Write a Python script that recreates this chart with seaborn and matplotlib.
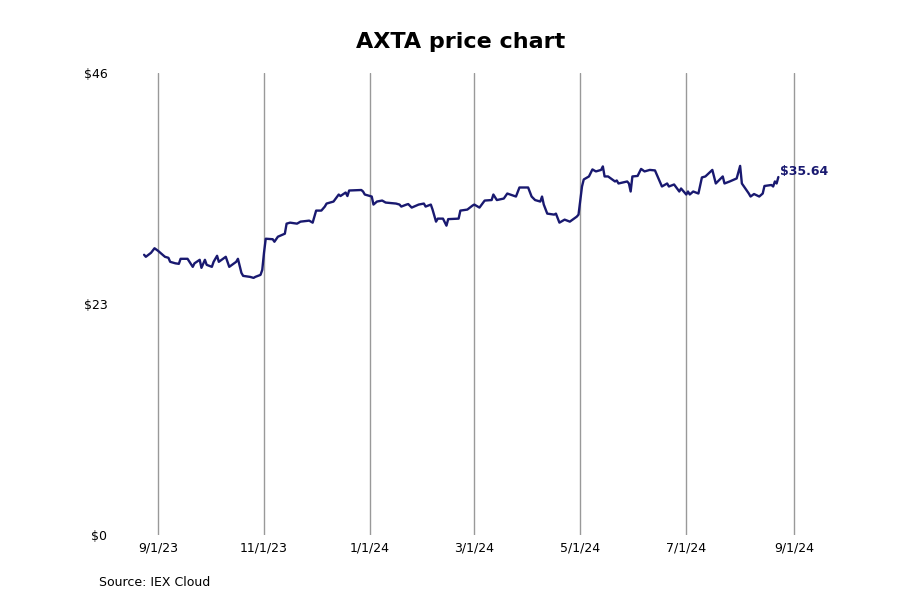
import matplotlib
matplotlib.use("Agg")
import matplotlib.pyplot as plt
import matplotlib.dates as mdates
import seaborn as sns
import pandas as pd

dates = [
    "2023-08-24", "2023-08-25", "2023-08-28", "2023-08-30", "2023-09-01", "2023-09-05",
    "2023-09-07", "2023-09-08", "2023-09-11", "2023-09-13", "2023-09-14", "2023-09-18",
    "2023-09-21", "2023-09-22", "2023-09-25", "2023-09-26", "2023-09-28", "2023-09-29",
    "2023-10-02", "2023-10-03", "2023-10-05", "2023-10-06", "2023-10-10", "2023-10-12",
    "2023-10-16", "2023-10-17", "2023-10-19", "2023-10-20", "2023-10-24", "2023-10-26",
    "2023-10-27", "2023-10-30", "2023-10-31", "2023-11-01", "2023-11-02", "2023-11-06",
    "2023-11-07", "2023-11-09", "2023-11-13", "2023-11-14", "2023-11-16", "2023-11-20",
    "2023-11-22", "2023-11-27", "2023-11-29", "2023-12-01", "2023-12-04", "2023-12-06",
    "2023-12-07", "2023-12-11", "2023-12-14", "2023-12-15", "2023-12-18", "2023-12-19",
    "2023-12-20", "2023-12-27", "2023-12-28", "2023-12-29", "2024-01-02", "2024-01-03",
    "2024-01-05", "2024-01-08", "2024-01-10", "2024-01-16", "2024-01-18", "2024-01-19",
    "2024-01-22", "2024-01-23", "2024-01-25", "2024-01-29", "2024-02-01", "2024-02-02",
    "2024-02-05", "2024-02-06", "2024-02-08", "2024-02-09", "2024-02-12", "2024-02-14",
    "2024-02-15", "2024-02-21", "2024-02-22", "2024-02-26", "2024-02-29", "2024-03-01",
    "2024-03-04", "2024-03-07", "2024-03-11", "2024-03-12", "2024-03-14", "2024-03-18",
    "2024-03-20", "2024-03-25", "2024-03-27", "2024-04-01", "2024-04-03", "2024-04-05",
    "2024-04-08", "2024-04-09", "2024-04-10", "2024-04-12", "2024-04-16", "2024-04-17",
    "2024-04-19", "2024-04-22", "2024-04-25", "2024-04-29", "2024-04-30", "2024-05-02",
    "2024-05-03", "2024-05-06", "2024-05-08", "2024-05-10", "2024-05-13", "2024-05-14",
    "2024-05-15", "2024-05-17", "2024-05-21", "2024-05-22", "2024-05-23", "2024-05-28",
    "2024-05-29", "2024-05-30", "2024-05-31", "2024-06-03", "2024-06-05", "2024-06-07",
    "2024-06-10", "2024-06-13", "2024-06-17", "2024-06-20", "2024-06-21", "2024-06-24",
    "2024-06-27", "2024-06-28", "2024-07-01", "2024-07-02", "2024-07-03", "2024-07-05",
    "2024-07-08", "2024-07-10", "2024-07-12", "2024-07-16", "2024-07-18", "2024-07-22",
    "2024-07-23", "2024-07-26", "2024-07-30", "2024-08-01", "2024-08-02", "2024-08-06",
    "2024-08-07", "2024-08-09", "2024-08-12", "2024-08-14", "2024-08-15", "2024-08-19",
    "2024-08-20", "2024-08-21", "2024-08-22", "2024-08-23",
]
prices = [
    27.9, 27.7, 28.1, 28.55, 28.3, 27.7,
    27.6, 27.2, 27.05, 27.0, 27.5, 27.5,
    26.7, 27.05, 27.4, 26.6, 27.4, 26.9,
    26.7, 27.2, 27.8, 27.2, 27.7, 26.7,
    27.2, 27.5, 26.1, 25.8, 25.7, 25.6,
    25.7, 25.9, 26.4, 28.1, 29.5, 29.45,
    29.2, 29.7, 30.0, 31.0, 31.1, 31.0,
    31.2, 31.3, 31.1, 32.3, 32.3, 32.7,
    33.0, 33.2, 33.9, 33.75, 34.1, 33.75,
    34.3, 34.35, 34.2, 33.9, 33.7, 32.9,
    33.2, 33.3, 33.1, 33.0, 32.9, 32.7,
    32.9, 32.95, 32.6, 32.9, 33.0, 32.7,
    32.9, 32.4, 31.2, 31.5, 31.5, 30.8,
    31.45, 31.5, 32.3, 32.4, 32.8, 32.9,
    32.6, 33.3, 33.35, 33.9, 33.35, 33.5,
    34.0, 33.7, 34.6, 34.6, 33.7, 33.35,
    33.2, 33.7, 32.9, 32.0, 31.9, 32.0,
    31.1, 31.4, 31.2, 31.7, 31.9, 34.7,
    35.4, 35.7, 36.4, 36.2, 36.35, 36.7,
    35.7, 35.7, 35.2, 35.3, 35.0, 35.2,
    35.0, 34.2, 35.7, 35.75, 36.45, 36.2,
    36.35, 36.3, 34.7, 35.0, 34.7, 34.9,
    34.2, 34.5, 33.9, 34.2, 33.9, 34.2,
    34.0, 35.6, 35.7, 36.35, 35.0, 35.7,
    35.0, 35.2, 35.5, 36.75, 35.0, 34.0,
    33.7, 33.95, 33.7, 34.0, 34.75, 34.85,
    34.7, 35.2, 35.0, 35.64,
]
tick_dates = ["2023-09-01", "2023-11-01", "2024-01-01", "2024-03-01",
              "2024-05-01", "2024-07-01", "2024-09-01"]
tick_labels = ["9/1/23", "11/1/23", "1/1/24", "3/1/24", "5/1/24", "7/1/24", "9/1/24"]
y_ticks = [0, 23, 46]
y_labels = ["$0", "$23", "$46"]
title = "AXTA price chart"
source = "Source: IEX Cloud"
last_label = "$35.64"

sns.set_style("white")
plt.rcParams["font.family"] = ["DejaVu Sans"]

df = pd.DataFrame({"date": pd.to_datetime(dates), "price": prices})

fig = plt.figure(figsize=(9, 6), dpi=100)
W, H = 900, 600
ax_left, ax_right, ax_top, ax_bottom = 120, 820, 73, 535
ax = fig.add_axes([ax_left / W, 1 - ax_bottom / H,
                   (ax_right - ax_left) / W, (ax_bottom - ax_top) / H])

navy = "#191970"
sns.lineplot(data=df, x="date", y="price", ax=ax, color=navy, linewidth=1.7)

# x limits so that 9/1/23 -> 158 px and 9/1/24 -> 794 px
t0 = mdates.date2num(pd.Timestamp("2023-09-01"))
t1 = mdates.date2num(pd.Timestamp("2024-09-01"))
ppd = (794 - 158) / (t1 - t0)
ax.set_xlim(t0 - (158 - ax_left) / ppd, t1 + (ax_right - 794) / ppd)
ax.set_ylim(0, 46)

ax.set_xticks([mdates.date2num(pd.Timestamp(d)) for d in tick_dates])
ax.set_xticklabels(tick_labels, fontsize=9, color="black")
ax.set_yticks(y_ticks)
ax.set_yticklabels(y_labels, fontsize=9, color="black")
ax.tick_params(axis="both", length=0)
ax.tick_params(axis="x", pad=5)
ax.tick_params(axis="y", pad=9)

ax.grid(False)
ax.xaxis.grid(True, color="#999999", linewidth=1.0)
for s in ax.spines.values():
    s.set_visible(False)
ax.set_xlabel("")
ax.set_ylabel("")

last_x = mdates.date2num(df["date"].iloc[-1])
ax.annotate(last_label, xy=(last_x, prices[-1]), xytext=(1, 4),
            textcoords="offset points", ha="left", va="center",
            fontsize=9, fontweight="bold", color=navy)

fig.text(461 / W, 1 - 42 / H, title, ha="center", va="center",
         fontsize=16, fontweight="bold", color="black")
fig.text(99 / W, 1 - 582 / H, source, ha="left", va="center",
         fontsize=9, color="black")

fig.savefig("out.png", dpi=100, facecolor="white")
